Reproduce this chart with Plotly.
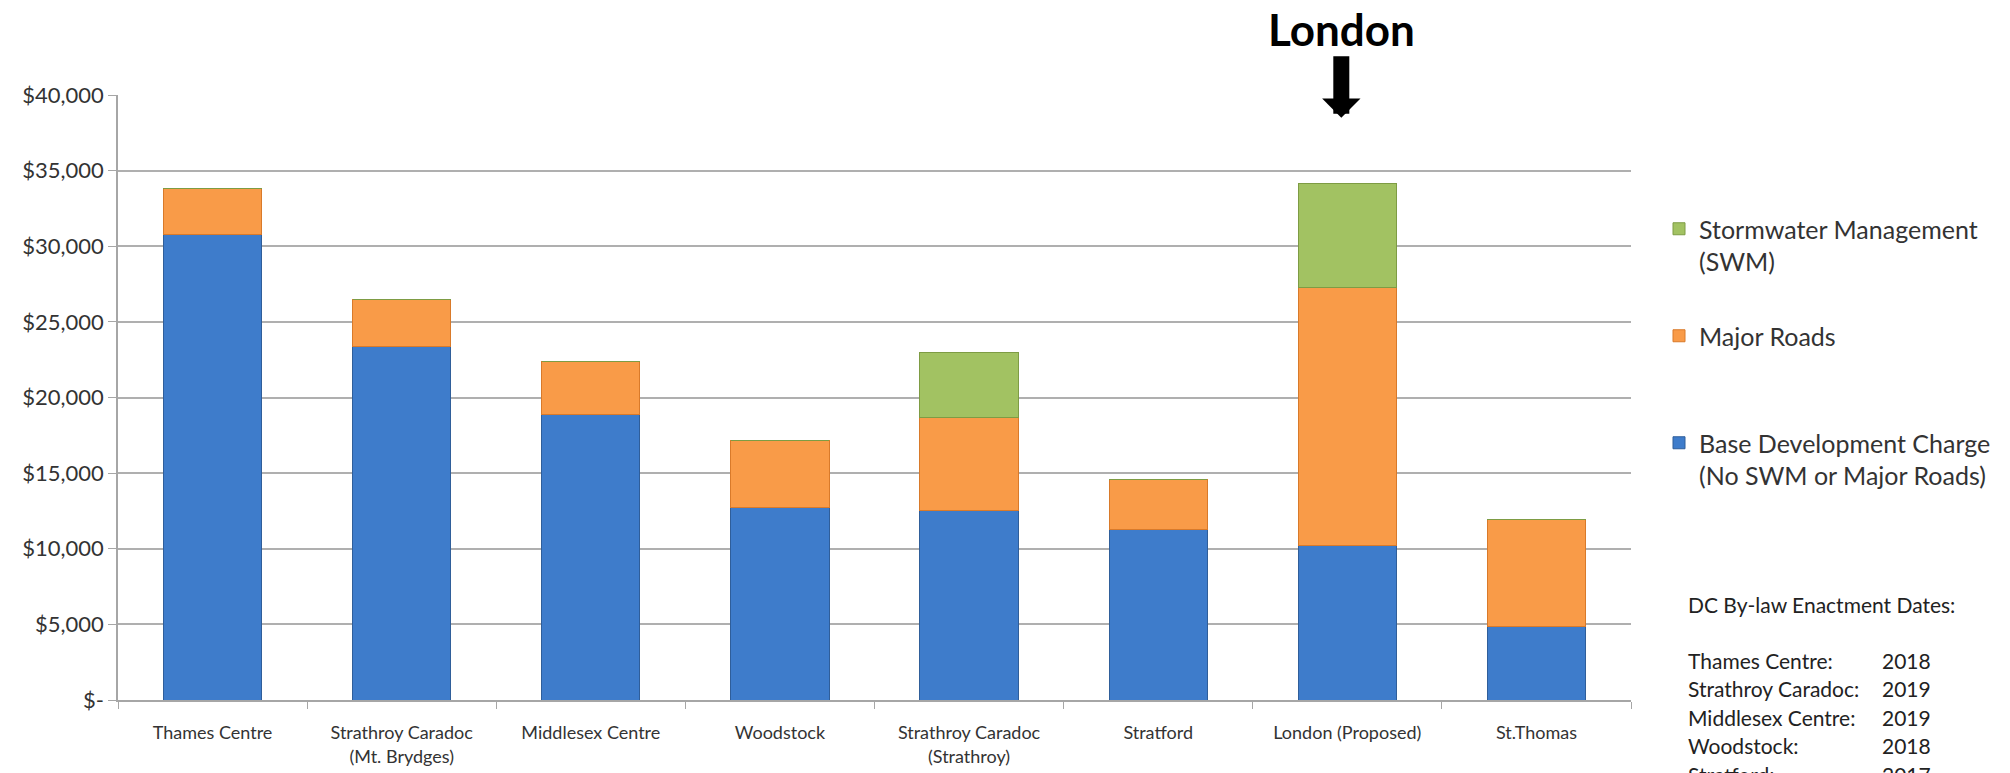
import plotly.graph_objects as go

categories = ["Thames Centre", "Strathroy Caradoc<br>(Mt. Brydges)", "Middlesex Centre", "Woodstock",
              "Strathroy Caradoc<br>(Strathroy)", "Stratford", "London (Proposed)", "St.Thomas"]
base_charge = [30750, 23350, 18850, 12700, 12500, 11300, 10200, 4850]
major_roads = [3100, 3100, 3550, 4450, 6200, 3250, 17050, 7100]
swm = [0, 0, 0, 0, 4300, 0, 6900, 0]

series_names = ["Base Development Charge<br>(No SWM or Major Roads)", "Major Roads<br> ", "Stormwater Management<br>(SWM)"]
series_colors = ["#3E7CCB", "#F99B48", "#A2C262"]
edge_colors = ["#2F5E9A", "#D97A2A", "#7E9C44"]
legend_ranks = [3, 2, 1]

ytick_vals = [0, 5000, 10000, 15000, 20000, 25000, 30000, 35000, 40000]
ytick_text = ["$-", "$5,000", "$10,000", "$15,000", "$20,000", "$25,000", "$30,000", "$35,000", "$40,000"]

dates_title = "DC By-law Enactment Dates:"
dates_names = ["Thames Centre:", "Strathroy Caradoc:", "Middlesex Centre:", "Woodstock:", "Stratford:"]
dates_years = ["2018", "2019", "2019", "2018", "2017"]

FONT = "Lato"

fig = go.Figure()
for i, (vals, name) in enumerate(zip([base_charge, major_roads, swm], series_names)):
    fig.add_trace(go.Bar(
        x=categories, y=vals, name=name, legendgroup=f"g{i}", legendrank=legend_ranks[i],
        marker=dict(color=series_colors[i], line=dict(color=edge_colors[i], width=1)),
        width=0.52,
    ))

# plot area in pixels
L, R, T, B = 118, 379, 95, 73
W = 2010 - L - R
H = 773 - T - B

def px_x(x):
    return (x - L) / W

def px_y(y):
    return (773 - B - y) / H

annotations = []
# London label with arrow
annotations.append(dict(
    x="London (Proposed)", y=38500, xref="x", yref="y",
    text="<b>London</b>", showarrow=True, arrowhead=1, arrowwidth=16, arrowsize=0.4,
    arrowcolor="black", ax=0, ay=-89, axref="pixel", ayref="pixel", xshift=-6,
    font=dict(family=FONT, size=44, color="black"),
))
annotations.append(dict(
    x=px_x(1686), y=px_y(604), xref="paper", yref="paper", xanchor="left", yanchor="middle",
    text=dates_title, showarrow=False, font=dict(family=FONT, size=21, color="#222222"),
))
for k, (nm, yr) in enumerate(zip(dates_names, dates_years)):
    yy = 660 + k * 28.5
    annotations.append(dict(
        x=px_x(1686), y=px_y(yy), xref="paper", yref="paper", xanchor="left", yanchor="middle",
        text=nm, showarrow=False, font=dict(family=FONT, size=21, color="#222222"),
    ))
    annotations.append(dict(
        x=px_x(1880), y=px_y(yy), xref="paper", yref="paper", xanchor="left", yanchor="middle",
        text=yr, showarrow=False, font=dict(family=FONT, size=21, color="#222222"),
    ))

fig.update_layout(
    width=2010, height=773,
    margin=dict(l=L, r=R, t=T, b=B, autoexpand=False),
    paper_bgcolor="white", plot_bgcolor="white",
    barmode="stack",
    font=dict(family=FONT, color="#333333"),
    legend=dict(
        x=px_x(1659), y=px_y(206), xanchor="left", yanchor="top",
        traceorder="grouped", tracegroupgap=39, valign="top",
        font=dict(family=FONT, size=25, color="#333333"),
        bgcolor="rgba(0,0,0,0)", itemwidth=30,
    ),
    annotations=annotations,
    xaxis=dict(
        showline=True, linecolor="#A6A6A6", linewidth=1.5,
        ticks="outside", tickson="boundaries", ticklen=7, tickcolor="#A6A6A6",
        tickfont=dict(family=FONT, size=18, color="#333333"),
        showgrid=False, ticklabelstandoff=16,
    ),
    yaxis=dict(
        range=[0, 40000], tickvals=ytick_vals, ticktext=ytick_text,
        showline=True, linecolor="#A6A6A6", linewidth=1.5,
        ticks="outside", ticklen=8, tickcolor="#A6A6A6",
        gridcolor="#AFAFAF", gridwidth=1.5,
        tickfont=dict(family=FONT, size=22, color="#333333"),
        zeroline=False,
    ),
)

fig.write_html("out.html")
